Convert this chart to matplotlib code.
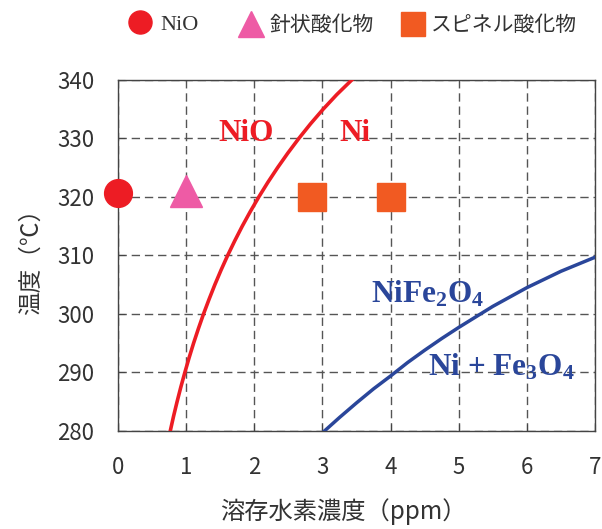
import matplotlib
matplotlib.use('Agg')
from matplotlib import pyplot as plt

plt.rcParams['font.family'] = ['Noto Sans CJK JP', 'DejaVu Sans']
plt.rcParams['mathtext.fontset'] = 'custom'
plt.rcParams['mathtext.rm'] = 'Liberation Serif:bold'
plt.rcParams['mathtext.it'] = 'Liberation Serif:bold'
plt.rcParams['mathtext.bf'] = 'Liberation Serif:bold'
plt.rcParams['mathtext.default'] = 'rm'

# NiO / Ni boundary (temperature every 2.5 C)
red_y = [280, 282.5, 285, 287.5, 290, 292.5, 295, 297.5, 300, 302.5, 305, 307.5, 310,
         312.5, 315, 317.5, 320, 322.5, 325, 327.5, 330, 332.5, 335, 337.5, 340]
red_x = [0.767, 0.815, 0.867, 0.922, 0.981, 1.043, 1.109, 1.18, 1.255, 1.336, 1.421,
         1.512, 1.609, 1.713, 1.823, 1.941, 2.066, 2.199, 2.341, 2.492, 2.653, 2.825,
         3.01, 3.21, 3.43]

# NiFe2O4 / Ni + Fe3O4 boundary
blue_x = [3.03, 3.25, 3.5, 3.75, 4.0, 4.25, 4.5, 4.75, 5.0, 5.25, 5.5, 5.75, 6.0,
          6.25, 6.5, 6.75, 7.0]
blue_y = [280, 282.3, 284.8, 287.2, 289.4, 291.7, 293.8, 295.8, 297.7, 299.5, 301.3,
          302.9, 304.5, 305.9, 307.3, 308.5, 309.7]

# observed oxides
nio_x, nio_y = [0.0], [320.7]
needle_x, needle_y = [1.0], [321.0]
spinel_x, spinel_y = [2.85, 4.0], [320.0, 320.0]

xticks = [0, 1, 2, 3, 4, 5, 6, 7]
yticks = [280, 290, 300, 310, 320, 330, 340]

RED = '#ED1C24'
PINK = '#EE5BA5'
ORANGE = '#F15A22'
BLUE = '#2A469A'
GRAY = '#444444'

fig = plt.figure(figsize=(6.02, 5.29), dpi=100)
ax = fig.add_axes([0.196, 0.1853, 0.7924, 0.6635])

ax.plot(red_x, red_y, color=RED, lw=2.6, zorder=3, solid_joinstyle='round')
ax.plot(blue_x, blue_y, color=BLUE, lw=2.5, zorder=3, solid_joinstyle='round')

h1, = ax.plot(nio_x, nio_y, 'o', color=RED, ms=20, clip_on=False, zorder=4)
h2, = ax.plot(needle_x, needle_y, '^', color=PINK, ms=23, clip_on=False, zorder=4)
h3, = ax.plot(spinel_x, spinel_y, 's', color=ORANGE, ms=20, clip_on=False, zorder=4)

ax.set_xlim(0, 7)
ax.set_ylim(280, 340)
ax.set_xticks(xticks)
ax.set_yticks(yticks)
ax.grid(True, color='#555555', lw=1.0, linestyle=(0, (6, 3.5)))
ax.set_axisbelow(True)
for s in ax.spines.values():
    s.set_color(GRAY)
    s.set_linewidth(1.0)
ax.tick_params(direction='in', length=5, color=GRAY, labelcolor='#333333',
               labelsize=16)
ax.tick_params(axis='y', pad=17)
ax.tick_params(axis='x', pad=18)

ax.set_xlabel('溶存水素濃度（ppm）', fontsize=17.5, color='#333333', labelpad=14, x=0.472)
ax.set_ylabel('温度（℃）', fontsize=17, color='#333333', labelpad=10)

# region labels
serif_b = dict(family='Liberation Serif', weight='bold')
ax.text(1.88, 329.5, 'NiO', color=RED, fontsize=22.5, ha='center', va='baseline', **serif_b)
ax.text(3.47, 329.5, 'Ni', color=RED, fontsize=22.5, ha='center', va='baseline', **serif_b)
ax.text(3.72, 302.0, 'NiFe$_2$O$_4$', color=BLUE, fontsize=22.5, ha='left', va='baseline', **serif_b)
ax.text(4.55, 289.4, 'Ni + Fe$_3$O$_4$', color=BLUE, fontsize=22.5, ha='left', va='baseline', **serif_b)

# legend row across the top
leg_items = [(h1, 'NiO', 0.215), (h2, '針状酸化物', 0.400), (h3, 'スピネル酸化物', 0.668)]
for h, lab, x0 in leg_items:
    leg = fig.legend([h], [lab], loc='center left', bbox_to_anchor=(x0, 0.953),
                     frameon=False, fontsize=15, markerscale=0.83,
                     handlelength=1.0, handletextpad=0.5 if lab == 'NiO' else 0.4,
                     borderpad=0, borderaxespad=0)
    for t in leg.get_texts():
        t.set_color('#333333')
        if lab == 'NiO':
            t.set_family('Liberation Serif')
            t.set_fontsize(16)

fig.savefig('out.png', dpi=100)
